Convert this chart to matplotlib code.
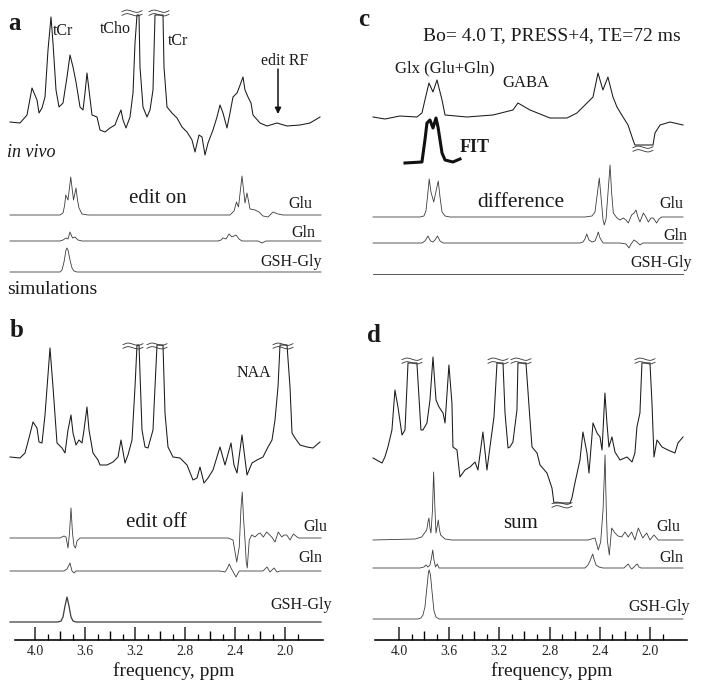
import matplotlib
matplotlib.use("Agg")
import matplotlib.pyplot as plt
from matplotlib.lines import Line2D
from matplotlib.patches import FancyArrowPatch

plt.rcParams['font.family'] = ['Liberation Serif', 'DejaVu Serif']

W, H = 701, 691

# ---- spectra: (ppm, height above the trace's own baseline) ----
a_vivo = [(4.20, 1), (4.12, 0), (4.064, 8), (4.024, 35), (3.984, 23), (3.968, 10), (3.944, 15),
          (3.92, 26), (3.896, 73), (3.872, 106), (3.856, 80), (3.832, 33), (3.808, 16), (3.776, 20),
          (3.744, 46), (3.72, 68), (3.696, 56), (3.672, 41), (3.64, 16), (3.616, 13), (3.60, 30),
          (3.584, 50), (3.568, 33), (3.544, 8), (3.504, 6), (3.48, -7), (3.44, -9), (3.40, -5),
          (3.36, -2), (3.336, 6), (3.312, 13), (3.296, 3), (3.272, -5), (3.24, 6), (3.216, 30),
          (3.20, 80), (3.184, 108), (3.168, 108), (3.16, 56), (3.136, 16), (3.104, 6), (3.08, 13),
          (3.056, 33), (3.04, 108), (2.976, 108), (2.968, 56), (2.944, 16), (2.904, 10), (2.864, 5),
          (2.824, -4), (2.784, -9), (2.744, -17), (2.72, -29), (2.688, -12), (2.664, -14), (2.64, -32),
          (2.616, -20), (2.576, -7), (2.544, 6), (2.52, 18), (2.496, 10), (2.464, -5), (2.44, 10),
          (2.416, 26), (2.384, 30), (2.368, 35), (2.336, 46), (2.32, 33), (2.296, 26), (2.272, 20),
          (2.256, 8), (2.20, 0), (2.144, -3), (2.064, 0), (1.984, -3), (1.88, -2), (1.80, 0), (1.72, 6)]

b_vivo = [(4.20, 1), (4.12, 0), (4.08, 5), (4.048, 20), (4.016, 36), (3.984, 30), (3.968, 16),
          (3.944, 15), (3.92, 43), (3.88, 110), (3.856, 71), (3.824, 15), (3.784, 10), (3.76, 5),
          (3.736, 28), (3.712, 43), (3.696, 25), (3.672, 13), (3.648, 18), (3.624, 15), (3.608, 28),
          (3.584, 51), (3.568, 28), (3.536, 5), (3.496, -2), (3.48, -7), (3.424, -7), (3.376, -4),
          (3.336, 1), (3.312, 18), (3.28, -5), (3.256, 3), (3.224, 18), (3.20, 71), (3.184, 113),
          (3.168, 113), (3.144, 28), (3.12, 11), (3.096, 10), (3.056, 28), (3.04, 71), (3.024, 113),
          (2.976, 113), (2.96, 45), (2.936, 11), (2.896, 1), (2.84, 0), (2.784, -7), (2.736, -22),
          (2.704, -20), (2.68, -9), (2.648, -25), (2.616, -20), (2.576, -12), (2.52, 11), (2.48, -7),
          (2.432, 15), (2.408, -7), (2.384, -15), (2.344, 23), (2.304, -17), (2.264, -5), (2.224, -2),
          (2.176, 1), (2.136, 11), (2.104, 18), (2.08, 38), (2.056, 71), (2.04, 113), (1.984, 113),
          (1.96, 71), (1.944, 25), (1.92, 20), (1.88, 13), (1.824, 11), (1.776, 10), (1.72, 16)]

c_vivo = [(4.207, 0), (4.112, -2), (3.992, 1), (3.857, 0), (3.817, 4), (3.793, 17), (3.761, 34),
          (3.729, 25), (3.697, 37), (3.657, 17), (3.633, 2), (3.458, 0), (3.251, 2), (3.092, 7),
          (3.052, 14), (2.956, 7), (2.797, -1), (2.661, -1), (2.582, 4), (2.502, 14), (2.454, 20),
          (2.414, 44), (2.375, 27), (2.335, 40), (2.295, 20), (2.263, 10), (2.215, 0), (2.175, -8),
          (2.135, -23), (2.12, -28), (1.976, -28), (1.96, -16), (1.92, -8), (1.841, -5), (1.737, -8)]

c_fit = [(3.952, -1), (3.817, 0), (3.793, 22), (3.777, 39), (3.753, 42), (3.729, 34), (3.705, 44),
         (3.689, 35), (3.657, 9), (3.633, 2), (3.570, 0), (3.514, 3)]

d_vivo = [(4.207, 0), (4.135, -5), (4.112, 1), (4.088, 11), (4.056, 28), (4.032, 68), (4.008, 51),
          (3.976, 23), (3.952, 28), (3.928, 95), (3.857, 95), (3.825, 28), (3.809, 28), (3.777, 35),
          (3.753, 58), (3.729, 101), (3.705, 58), (3.681, 51), (3.649, 45), (3.633, 35), (3.602, 93),
          (3.578, 55), (3.570, 11), (3.538, 8), (3.514, -19), (3.474, -12), (3.434, -9), (3.394, -4),
          (3.371, -12), (3.331, 26), (3.299, -12), (3.275, 11), (3.243, 41), (3.219, 95), (3.171, 95),
          (3.155, 45), (3.131, 10), (3.116, 11), (3.092, 16), (3.060, 48), (3.052, 95), (2.988, 95),
          (2.956, 38), (2.940, 11), (2.900, 5), (2.876, -7), (2.821, -15), (2.781, -30), (2.765, -45),
          (2.637, -45), (2.622, -40), (2.598, -25), (2.558, -2), (2.534, 26), (2.502, 5), (2.486, -15),
          (2.454, 35), (2.422, 25), (2.398, 21), (2.382, 8), (2.359, 65), (2.343, 35), (2.327, 11),
          (2.303, 21), (2.279, 6), (2.239, -2), (2.183, 1), (2.143, -4), (2.120, 5), (2.104, 31),
          (2.080, 45), (2.064, 95), (2.0, 95), (1.984, 55), (1.968, 1), (1.944, 18), (1.904, 11),
          (1.857, 8), (1.801, 5), (1.777, 15), (1.737, 21)]

# simulations
a_glu = [(4.20, 0), (3.80, 0), (3.776, 2), (3.764, 9), (3.754, 20), (3.736, 15), (3.714, 38),
         (3.692, 15), (3.672, 27), (3.66, 15), (3.648, 7), (3.624, 1), (3.576, 0), (2.44, 0),
         (2.408, 4), (2.388, 13), (2.372, 8), (2.344, 39), (2.32, 12), (2.304, 22), (2.28, 6),
         (2.24, 5), (2.208, 3), (2.176, -1), (2.136, -2), (2.096, 3), (2.056, 1), (2.016, 0), (1.712, 0)]
a_gln = [(4.20, 0), (3.80, 0), (3.776, 1), (3.752, 3), (3.736, 2), (3.72, 9), (3.70, 3), (3.68, 4),
         (3.656, 1), (3.624, 0), (2.536, 0), (2.512, 1), (2.496, 3), (2.472, 2), (2.448, 7), (2.424, 4),
         (2.392, 6), (2.368, 2), (2.344, 0), (2.216, 0), (2.184, -2), (2.152, 0), (1.712, 0)]
a_gsh = [(4.20, 0), (3.80, 0), (3.784, 2), (3.768, 10), (3.752, 22), (3.744, 24), (3.736, 22),
         (3.72, 12), (3.704, 4), (3.688, 1), (3.664, 0), (1.712, 0)]

b_glu = [(4.20, 0), (3.80, 0), (3.768, 2), (3.752, 1), (3.736, -10), (3.724, 5), (3.712, 30),
         (3.70, 5), (3.688, -8), (3.676, -10), (3.664, -3), (3.64, 0), (2.456, 0), (2.416, -2),
         (2.386, -24), (2.366, -9), (2.352, 30), (2.342, 46), (2.332, 20), (2.32, -2), (2.31, -24),
         (2.302, -30), (2.286, -2), (2.266, 3), (2.24, 1), (2.216, 4), (2.20, 5), (2.173, 1),
         (2.147, 6), (2.106, 1), (2.08, -4), (2.054, 6), (2.026, 1), (2.008, 3), (1.986, 3),
         (1.96, -2), (1.933, 4), (1.893, 0), (1.712, 0)]
b_gln = [(4.20, 0), (3.768, 0), (3.744, 2), (3.72, 8), (3.704, 0), (3.688, -2), (3.672, 0),
         (2.52, 0), (2.48, -1), (2.46, 3), (2.446, 7), (2.428, 2), (2.414, -1), (2.392, -6),
         (2.376, -2), (2.366, 0), (2.336, 0), (2.176, 0), (2.16, 2), (2.144, 4), (2.12, -1),
         (2.104, 1), (2.088, 3), (2.064, -1), (2.04, 0), (1.712, 0)]
b_gsh = [(4.20, 0), (3.816, 0), (3.792, 1), (3.776, 5), (3.76, 16), (3.744, 25), (3.728, 16),
         (3.712, 5), (3.696, 1), (3.672, 0), (1.712, 0)]

c_glu = [(4.207, 0), (3.833, 0), (3.801, 1), (3.785, 6), (3.773, 20), (3.759, 38), (3.745, 25),
         (3.723, 15), (3.701, 28), (3.687, 36), (3.673, 20), (3.657, 5), (3.633, 1), (3.594, 0),
         (2.518, 0), (2.462, 1), (2.438, 5), (2.418, 25), (2.404, 39), (2.390, 20), (2.374, -3),
         (2.364, -8), (2.350, -2), (2.334, 25), (2.318, 52), (2.306, 25), (2.292, 4), (2.263, -1),
         (2.239, -3), (2.213, -1), (2.191, -3), (2.173, -6), (2.146, 2), (2.127, 4), (2.112, 7),
         (2.096, 0), (2.080, -5), (2.053, 4), (2.032, 0), (2.013, -5), (1.992, -1), (1.974, -1),
         (1.947, -6), (1.928, -2), (1.907, 0), (1.737, 0)]
c_gln = [(4.207, 0), (3.817, 0), (3.793, 2), (3.769, 7), (3.749, 2), (3.729, 1), (3.713, 3),
         (3.693, 7), (3.673, 2), (3.649, 0), (2.558, 0), (2.534, 1), (2.518, 4), (2.504, 9),
         (2.486, 3), (2.462, 1), (2.438, 2), (2.422, 7), (2.412, 11), (2.398, 5), (2.374, 0),
         (2.239, 0), (2.191, -1), (2.167, -5), (2.151, -1), (2.127, 3), (2.104, 1), (2.080, -2),
         (2.056, 0), (1.737, 0)]
c_gsh = [(4.207, 0), (1.737, 0)]

d_glu = [(4.207, 0), (3.872, 1), (3.819, 3), (3.779, 10), (3.769, 18), (3.761, 22), (3.753, 12),
         (3.745, 7), (3.733, 30), (3.724, 68), (3.713, 30), (3.705, 7), (3.695, 14), (3.687, 20),
         (3.677, 10), (3.668, 5), (3.633, 1), (3.578, 0), (2.494, 0), (2.438, 2), (2.412, -10),
         (2.393, -2), (2.374, 30), (2.358, 85), (2.348, 30), (2.340, 0), (2.324, -15), (2.305, 12),
         (2.279, 7), (2.255, 4), (2.225, 3), (2.199, 8), (2.173, 3), (2.146, 8), (2.120, 0),
         (2.093, 12), (2.058, 2), (2.026, 7), (2.0, 0), (1.968, 5), (1.934, 0), (1.737, 0)]
d_gln = [(4.207, 0), (3.833, 0), (3.801, 1), (3.785, 3), (3.769, 1), (3.753, 3), (3.741, 10),
         (3.731, 18), (3.721, 8), (3.709, 1), (3.695, 4), (3.681, 0), (3.633, 0), (2.518, 0),
         (2.494, 3), (2.478, 7), (2.466, 11), (2.456, 14), (2.446, 9), (2.430, 3), (2.406, 1),
         (2.374, 0), (2.207, 0), (2.191, 2), (2.173, 4), (2.159, 1), (2.146, -1), (2.127, 1),
         (2.112, 3), (2.101, 4), (2.088, 1), (2.072, 0), (1.737, 0)]
d_gsh = [(4.207, 0), (3.849, 0), (3.825, 1), (3.809, 4), (3.793, 12), (3.777, 32), (3.765, 47),
         (3.759, 49), (3.749, 44), (3.737, 28), (3.721, 8), (3.705, 2), (3.681, 0), (1.737, 0)]

major_ppm = [4.0, 3.6, 3.2, 2.8, 2.4, 2.0]
mid_ppm = [3.8, 3.4, 3.0, 2.6, 2.2]
minor_ppm = [3.9, 3.7, 3.5, 3.3, 3.1, 2.9, 2.7, 2.5, 2.3, 2.1, 1.9]

fig = plt.figure(figsize=(W / 100, H / 100), dpi=100)


def px(v):
    return v * 0.72  # pixels -> points at 100 dpi


def make_axes(x0, x1, ppm_left, ppm_right):
    ax = fig.add_axes([x0 / W, (H - 640) / H, (x1 - x0) / W, 640 / H])
    ax.set_xlim(ppm_left, ppm_right)
    ax.set_ylim(640, 0)
    for s in ['left', 'right', 'top']:
        ax.spines[s].set_visible(False)
    ax.spines['bottom'].set_linewidth(px(1.6))
    ax.set_yticks([])
    ax.set_xticks(major_ppm)
    ax.set_xticklabels(['%.1f' % v for v in major_ppm])
    ax.set_xticks(minor_ppm, minor=True)
    ax.tick_params(axis='x', which='major', direction='in', length=px(13), width=px(1.5),
                   pad=px(5), labelsize=10, colors='#222222')
    ax.tick_params(axis='x', which='minor', direction='in', length=px(6), width=px(1.3))
    ax.patch.set_alpha(0)
    ax2 = ax.twiny()
    ax2.set_xlim(ppm_left, ppm_right)
    ax2.xaxis.set_ticks_position('bottom')
    ax2.set_xticks(mid_ppm)
    ax2.set_xticklabels([])
    ax2.tick_params(axis='x', which='major', direction='in', length=px(9.5), width=px(1.4))
    for s in ax2.spines.values():
        s.set_visible(False)
    return ax


axL = make_axes(15, 323, 4.16, 1.696)
axR = make_axes(375, 687, 4.191, 1.705)


def trace(ax, pts, base, lw=0.75, color='#1a1a1a'):
    xs = [p[0] for p in pts]
    ys = [base - p[1] for p in pts]
    ax.plot(xs, ys, color=color, lw=lw, clip_on=False, solid_joinstyle='round')


SIM = dict(lw=0.6, color='#3c3c3c')
trace(axL, a_vivo, 123)
trace(axL, a_glu, 215, **SIM)
trace(axL, a_gln, 241, **SIM)
trace(axL, a_gsh, 272, **SIM)
trace(axL, b_vivo, 458)
trace(axL, b_glu, 538, **SIM)
trace(axL, b_gln, 571, **SIM)
trace(axL, b_gsh, 622, lw=0.9, color='#3c3c3c')
trace(axR, c_vivo, 117)
trace(axR, c_fit, 162, lw=2.2, color='#111111')
trace(axR, c_glu, 217, **SIM)
trace(axR, c_gln, 243, **SIM)
trace(axR, c_gsh, 274, **SIM)
trace(axR, d_vivo, 458)
trace(axR, d_glu, 540, **SIM)
trace(axR, d_gln, 568, **SIM)
trace(axR, d_gsh, 619, **SIM)

# break marks on clipped peaks
TDX = [-10, -7, -5, -2.5, 0, 2.5, 5, 7, 10]
TDY = [0.5, -0.8, -1.2, -0.8, 0, 0.8, 1.2, 0.8, -0.5]


def brk(cx, cy):
    for off in (-1.8, 1.8):
        xs = [(cx + d) / W for d in TDX]
        ys = [1 - (cy + off + d) / H for d in TDY]
        fig.add_artist(Line2D(xs, ys, transform=fig.transFigure, lw=0.6, color='#333333'))


for cx, cy in [(132, 13), (159, 13), (133, 346), (157, 346), (283, 346),
               (643, 149), (412, 361), (498, 361), (521, 361), (645, 361), (562, 505)]:
    brk(cx, cy)


def label(x, y, s, size, ha='left', **kw):
    fig.text(x / W, 1 - y / H, s, fontsize=size, ha=ha, va='baseline', color='#1a1a1a', **kw)


# panel letters
label(8, 30, 'a', 18, weight='bold')
label(10, 337, 'b', 18, weight='bold')
label(358, 26, 'c', 18, weight='bold')
label(367, 342, 'd', 18, weight='bold')

# panel a
label(53, 35, 'tCr', 11.5)
label(131, 33, 'tCho', 11.5, ha='right')
label(168, 45, 'tCr', 11.5)
label(285, 65, 'edit RF', 11.5, ha='center')
fig.add_artist(FancyArrowPatch((278 / W, 1 - 69 / H), (278 / W, 1 - 114 / H),
                               transform=fig.transFigure, arrowstyle='-|>', mutation_scale=9,
                               lw=1.1, color='#111111', shrinkA=0, shrinkB=0))
label(7, 157, 'in vivo', 13, style='italic')
label(158, 203, 'edit on', 15, ha='center')
label(312, 208, 'Glu', 11.5, ha='right')
label(315, 237, 'Gln', 11.5, ha='right')
label(322, 266, 'GSH-Gly', 11.5, ha='right')
label(7, 294, 'simulations', 14)

# panel b
label(254, 377, 'NAA', 11.5, ha='center')
label(156, 527, 'edit off', 15, ha='center')
label(327, 531, 'Glu', 11.5, ha='right')
label(322, 562, 'Gln', 11.5, ha='right')
label(332, 609, 'GSH-Gly', 11.5, ha='right')

# panel c
label(552, 40, 'Bo= 4.0 T, PRESS+4, TE=72 ms', 14, ha='center')
label(445, 72, 'Glx (Glu+Gln)', 12, ha='center')
label(526, 87, 'GABA', 12, ha='center')
label(460, 152, 'FIT', 13, weight='bold')
label(521, 207, 'difference', 15.5, ha='center')
label(683, 208, 'Glu', 11.5, ha='right')
label(687, 240, 'Gln', 11.5, ha='right')
label(692, 267, 'GSH-Gly', 11.5, ha='right')

# panel d
label(520, 528, 'sum', 15, ha='center')
label(680, 531, 'Glu', 11.5, ha='right')
label(683, 562, 'Gln', 11.5, ha='right')
label(690, 611, 'GSH-Gly', 11.5, ha='right')

# axis titles
label(174, 676, 'frequency, ppm', 14, ha='center')
label(552, 676, 'frequency, ppm', 14, ha='center')

fig.savefig('out.png', dpi=100, facecolor='white')
